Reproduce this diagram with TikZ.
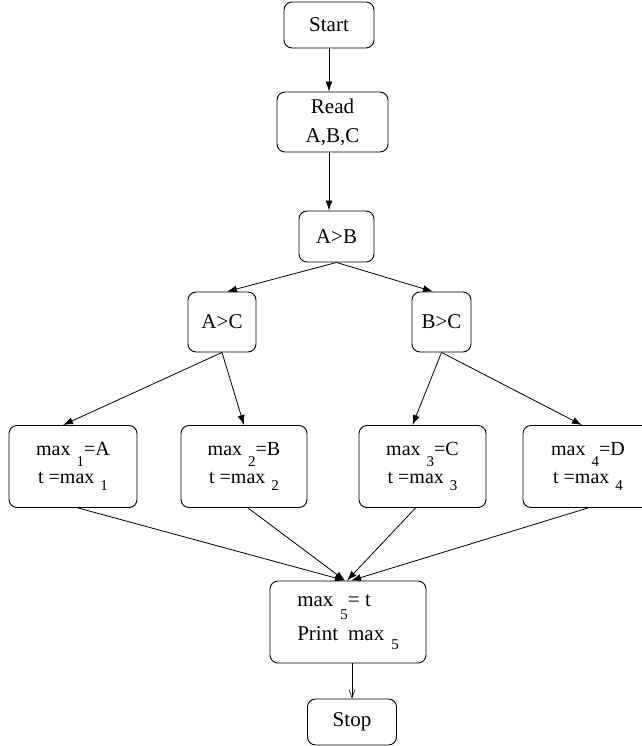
\documentclass[tikz,border=0pt]{standalone}
\usepackage{fontspec}
\setmainfont{Liberation Serif}
\usetikzlibrary{arrows.meta}

% lowered subscript, as xfig sets it: \lsub{drop}{text}
\newcommand{\lsub}[2]{\raisebox{-#1}{\fontsize{15}{15}\selectfont #2}}

\tikzset{
  box/.style={draw, line width=0.9pt, rounded corners=8pt, inner sep=0pt,
              font=\fontsize{21}{29}\selectfont, align=center},
  maxbox/.style={box, minimum width=#1, minimum height=82pt,
                 font=\fontsize{20}{28}\selectfont},
  flow/.style={line width=0.8pt, -{Latex[length=10pt,width=7pt]}},
  thinflow/.style={line width=0.6pt, -{Straight Barb[length=8pt,width=6pt]}}
}

\begin{document}
\begin{tikzpicture}[x=1pt, y=-1pt]
  \useasboundingbox (0,0) rectangle (641,746);

  % decision chain
  \node[box, minimum width=90pt, minimum height=46pt]  (start) at (329,25)    {Start};
  \node[box, minimum width=111pt, minimum height=60pt] (read)  at (332.5,122) {Read\\A,B,C};
  \node[box, minimum width=75pt, minimum height=51pt]  (ab)    at (336.5,236.5) {A>B};
  \node[box, minimum width=68pt, minimum height=60pt]  (ac)    at (222,322)   {A>C};
  \node[box, minimum width=59pt, minimum height=60pt]  (bc)    at (441.5,322) {B>C};

  % assignments
  \node[maxbox=128pt] (m1) at (73,466.5)  {max\hspace{6pt}\lsub{11pt}{1}=A\\t =max\hspace{6pt}\lsub{7pt}{1}};
  \node[maxbox=126pt] (m2) at (244,466.5) {max\hspace{6pt}\lsub{11pt}{2}=B\\t =max\hspace{6pt}\lsub{7pt}{2}};
  \node[maxbox=127pt] (m3) at (422.5,466.5) {max\hspace{6pt}\lsub{11pt}{3}=C\\t =max\hspace{6pt}\lsub{7pt}{3}};
  \node[maxbox=130pt] (m4) at (588,466.5) {max\hspace{6pt}\lsub{11pt}{4}=D\\t =max\hspace{6pt}\lsub{7pt}{4}};

  % result and end
  \node[box, minimum width=156pt, minimum height=82pt, align=left,
        font=\fontsize{21}{34}\selectfont] (fin) at (348,622)
        {max\hspace{7pt}\lsub{13pt}{5}= t\\Print\hspace{10pt}max\hspace{7pt}\lsub{9pt}{5}};
  \node[box, minimum width=89pt, minimum height=46pt] (stop) at (352,722) {Stop};

  \coordinate (join) at ([xshift=-3pt]fin.north);

  % connectors
  \draw[flow] (start.south) -- (read.north -| start.south);
  \draw[flow] (read.south -| start.south) -- (ab.north -| start.south);
  \draw[flow] (ab.south) -- ([xshift=5pt]ac.north);
  \draw[flow] (ab.south) -- ([xshift=-8.5pt]bc.north);
  \draw[flow] (ac.south) -- ([xshift=-10pt]m1.north);
  \draw[flow] (ac.south) -- (m2.north);
  \draw[flow] (bc.south) -- ([xshift=-10pt]m3.north);
  \draw[flow] (bc.south) -- ([xshift=-6pt]m4.north);
  \draw[flow] ([xshift=5pt]m1.south) -- (join);
  \draw[flow] ([xshift=4pt]m2.south) -- (join);
  \draw[flow] ([xshift=-7pt]m3.south) -- ([xshift=2pt]join);
  \draw[flow] (m4.south) -- ([xshift=6pt]join);
  \draw[thinflow] (fin.south -| stop.north) -- (stop.north);
\end{tikzpicture}
\end{document}
